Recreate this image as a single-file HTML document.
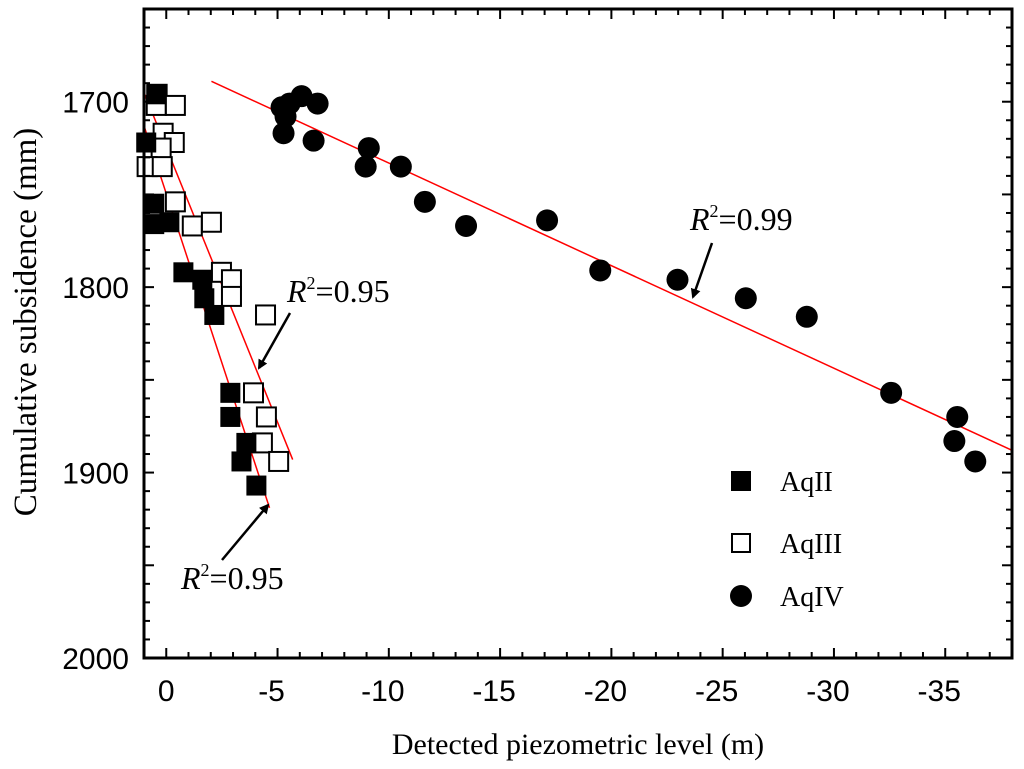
<!DOCTYPE html>
<html><head><meta charset="utf-8"><style>
html,body{margin:0;padding:0;background:#fff}
svg{display:block}
text{font-family:"Liberation Sans",sans-serif}
.serif{font-family:"Liberation Serif",serif}
</style></head><body>
<svg id="chart" width="1024" height="769" viewBox="0 0 1024 769">
<g id="marks"></g>
<g id="axes"></g>
</svg>
<script>
const xTicks=[0,-5,-10,-15,-20,-25,-30,-35];
const yTicks=[1700,1800,1900,2000];
const aq2X=[0.45,0.90,0.54,0.54,-0.14,-0.77,-1.62,-1.71,-2.16,-2.88,-2.88,-3.60,-3.38,-4.05];
const aq2Y=[1696,1722,1755,1766,1765,1792,1796,1806,1815,1857,1870,1884,1894,1907];
const aq3X=[0.41,0.45,-0.41,0.14,-0.36,0.23,0.86,0.18,-0.41,-1.17,-2.03,-2.48,-2.93,-2.93,-4.46,-3.92,-4.50,-4.32,-5.05];
const aq3Y=[1696,1702,1702,1717,1722,1725,1735,1735,1754,1767,1765,1792,1796,1805,1815,1857,1870,1884,1894];
const aq4X=[-5.18,-5.54,-6.08,-6.80,-5.36,-5.27,-6.62,-9.10,-8.96,-10.54,-11.62,-13.47,-17.11,-19.50,-22.97,-26.04,-28.78,-32.57,-35.54,-35.41,-36.35];
const aq4Y=[1703,1701,1697,1701,1708,1717,1721,1725,1735,1735,1754,1767,1764,1791,1796,1806,1816,1857,1870,1883,1894];
const fit2=[[1.0,1713],[-4.64,1919]];
const fit3=[[1.0,1695],[-5.68,1893]];
const fit4=[[-2.03,1689],[-38,1888]];

const L=144,R=1012,T=9,B=658,X0=1,X1=-38,Y0=1650,Y1=2000;
const sx=v=>L+(v-X0)/(X1-X0)*(R-L);
const sy=v=>T+(v-Y0)/(Y1-Y0)*(B-T);
const NS="http://www.w3.org/2000/svg";
function mk(tag,attrs,parent){const e=document.createElementNS(NS,tag);for(const k in attrs)e.setAttribute(k,attrs[k]);parent.appendChild(e);return e;}
const marks=document.getElementById('marks'),axes=document.getElementById('axes');

[[fit2,'fit-line-aqii'],[fit3,'fit-line-aqiii'],[fit4,'fit-line-aqiv']].forEach(([f,n])=>{
  const l=mk('line',{x1:sx(f[0][0]),y1:sy(f[0][1]),x2:sx(f[1][0]),y2:sy(f[1][1]),stroke:'#f00','stroke-width':1.5},marks);
  
  
});
aq3X.forEach((x,i)=>{
  const r=mk('rect',{x:sx(x)-9.5,y:sy(aq3Y[i])-9.5,width:19,height:19,fill:'#fff',stroke:'#000','stroke-width':2},marks);
  
  
});
aq2X.forEach((x,i)=>{
  const r=mk('rect',{x:sx(x)-10,y:sy(aq2Y[i])-10,width:20,height:20,fill:'#000'},marks);
  
  
});
aq4X.forEach((x,i)=>{
  const c=mk('circle',{cx:sx(x),cy:sy(aq4Y[i]),r:11,fill:'#000'},marks);
  
  
});

const fr=mk('rect',{x:L,y:T,width:R-L,height:B-T,fill:'none',stroke:'#000','stroke-width':3},axes);


for(let v=0;v>=-38;v--){
  const len=(v%5===0)?10:6,X=sx(v);
  mk('line',{x1:X,y1:B,x2:X,y2:B-len,stroke:'#000','stroke-width':2},axes);
  mk('line',{x1:X,y1:T,x2:X,y2:T+len,stroke:'#000','stroke-width':2},axes);
}
for(let v=1660;v<2000;v+=10){
  const len=(v%50===0)?10:6,Y=sy(v);
  mk('line',{x1:L,y1:Y,x2:L+len,y2:Y,stroke:'#000','stroke-width':2},axes);
  mk('line',{x1:R,y1:Y,x2:R-len,y2:Y,stroke:'#000','stroke-width':2},axes);
}
xTicks.forEach(v=>{
  const t=mk('text',{x:sx(v)-(v<0?6:0),y:701,'font-size':30,'text-anchor':'middle'},axes);
  t.textContent=v;
  
  
});
yTicks.forEach(v=>{
  const t=mk('text',{x:129,y:sy(v)+11,'font-size':30,'text-anchor':'end'},axes);
  t.textContent=v;
  
  
});
</script>
<svg width="1024" height="769" style="position:absolute;left:0;top:0">
<defs><marker id="ah" markerWidth="10" markerHeight="10" refX="8" refY="5" orient="auto" markerUnits="userSpaceOnUse"><path d="M0,0 L10,5 L0,10 Z" fill="#000"/></marker></defs>
<text class="serif" x="578" y="754" font-size="30" text-anchor="middle">Detected piezometric level (m)</text>
<text class="serif" x="36" y="322" font-size="33" text-anchor="middle" transform="rotate(-90 36 322)">Cumulative subsidence (mm)</text>
<g><text class="serif" x="690" y="230" font-size="32"><tspan font-style="italic">R</tspan><tspan font-size="18" dy="-13">2</tspan><tspan dy="13">=0.99</tspan></text>
<line x1="712" y1="243" x2="693" y2="297" stroke="#000" stroke-width="2.5" marker-end="url(#ah)"/></g>
<g><text class="serif" x="287" y="302" font-size="32"><tspan font-style="italic">R</tspan><tspan font-size="18" dy="-13">2</tspan><tspan dy="13">=0.95</tspan></text>
<line x1="290" y1="313" x2="259" y2="368" stroke="#000" stroke-width="2.5" marker-end="url(#ah)"/></g>
<g><text class="serif" x="181" y="589" font-size="32"><tspan font-style="italic">R</tspan><tspan font-size="18" dy="-13">2</tspan><tspan dy="13">=0.95</tspan></text>
<line x1="222" y1="560" x2="268" y2="505" stroke="#000" stroke-width="2.5" marker-end="url(#ah)"/></g>
<g>
<g><rect x="731" y="471" width="20" height="20" fill="#000"/><text class="serif" x="780" y="491" font-size="28">AqII</text></g>
<g><rect x="732" y="534" width="18" height="18" fill="#fff" stroke="#000" stroke-width="2"/><text class="serif" x="780" y="553" font-size="28">AqIII</text></g>
<g><circle cx="741" cy="596" r="11" fill="#000"/><text class="serif" x="780" y="606" font-size="28">AqIV</text></g>
</g>
</svg>
</body></html>
